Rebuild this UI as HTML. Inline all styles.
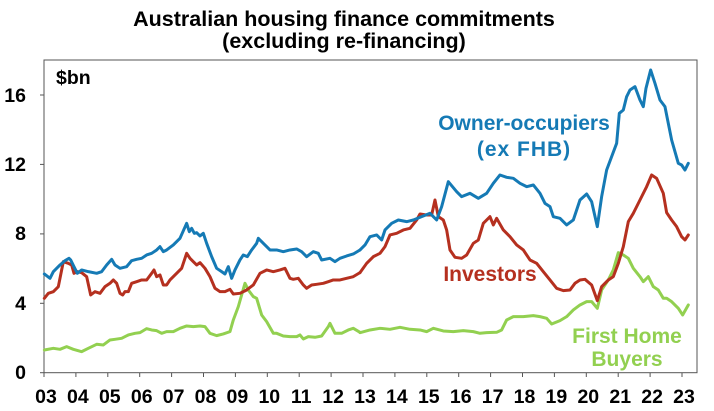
<!DOCTYPE html>
<html><head><meta charset="utf-8"><style>
html,body{margin:0;padding:0;background:#fff;}
svg{display:block;font-family:"Liberation Sans",Arial,sans-serif;font-weight:bold;}
</style></head><body>
<svg width="714" height="411" viewBox="0 0 714 411" xmlns="http://www.w3.org/2000/svg">
<rect width="714" height="411" fill="#fff"/>
<text x="344" y="26" font-size="21.5" text-anchor="middle" fill="#000">Australian housing finance commitments</text>
<text x="344" y="48" font-size="21.5" text-anchor="middle" fill="#000">(excluding re-financing)</text>
<rect x="44" y="60" width="653" height="312.7" fill="none" stroke="#555" stroke-width="1"/>
<g stroke="#555" stroke-width="1">
<line x1="40" y1="95" x2="44" y2="95"/><line x1="40" y1="164.4" x2="44" y2="164.4"/><line x1="40" y1="233.9" x2="44" y2="233.9"/><line x1="40" y1="303.3" x2="44" y2="303.3"/><line x1="40" y1="372.7" x2="44" y2="372.7"/>
</g>
<g font-size="19.5" text-anchor="end" fill="#000">
<text x="26" y="102">16</text><text x="26" y="171">12</text><text x="26" y="240">8</text><text x="26" y="310">4</text><text x="26" y="379">0</text>
</g>
<g font-size="19.5" text-anchor="middle" fill="#000">
<text x="46" y="403">03</text><text x="77.9" y="403">04</text><text x="109.8" y="403">05</text><text x="141.7" y="403">06</text><text x="173.6" y="403">07</text><text x="205.5" y="403">08</text><text x="237.4" y="403">09</text><text x="269.3" y="403">10</text><text x="301.2" y="403">11</text><text x="333.1" y="403">12</text><text x="365" y="403">13</text><text x="396.9" y="403">14</text><text x="428.8" y="403">15</text><text x="460.7" y="403">16</text><text x="492.6" y="403">17</text><text x="524.5" y="403">18</text><text x="556.4" y="403">19</text><text x="588.3" y="403">20</text><text x="620.2" y="403">21</text><text x="652.1" y="403">22</text><text x="684" y="403">23</text>
</g>
<g stroke="#555" stroke-width="1">
<line x1="44" y1="372.7" x2="44" y2="377"/><line x1="75.9" y1="372.7" x2="75.9" y2="377"/><line x1="107.8" y1="372.7" x2="107.8" y2="377"/><line x1="139.7" y1="372.7" x2="139.7" y2="377"/><line x1="171.6" y1="372.7" x2="171.6" y2="377"/><line x1="203.5" y1="372.7" x2="203.5" y2="377"/><line x1="235.4" y1="372.7" x2="235.4" y2="377"/><line x1="267.3" y1="372.7" x2="267.3" y2="377"/><line x1="299.2" y1="372.7" x2="299.2" y2="377"/><line x1="331.1" y1="372.7" x2="331.1" y2="377"/><line x1="363" y1="372.7" x2="363" y2="377"/><line x1="394.9" y1="372.7" x2="394.9" y2="377"/><line x1="426.8" y1="372.7" x2="426.8" y2="377"/><line x1="458.7" y1="372.7" x2="458.7" y2="377"/><line x1="490.6" y1="372.7" x2="490.6" y2="377"/><line x1="522.5" y1="372.7" x2="522.5" y2="377"/><line x1="554.4" y1="372.7" x2="554.4" y2="377"/><line x1="586.3" y1="372.7" x2="586.3" y2="377"/><line x1="618.2" y1="372.7" x2="618.2" y2="377"/><line x1="650.1" y1="372.7" x2="650.1" y2="377"/><line x1="682" y1="372.7" x2="682" y2="377"/>
</g>
<text x="56" y="84" font-size="19.5" fill="#000">$bn</text>
<g fill="none" stroke-width="3" stroke-linejoin="round" stroke-linecap="round">
<g transform="translate(0,50) scale(0.3333)">
<polyline vector-effect="non-scaling-stroke" stroke="#92d050" points="133,900 160,895 180,898 200,890 220,898 245,905 265,895 290,883 310,885 330,870 345,868 365,865 385,855 405,850 420,848 440,836 455,840 470,842 485,850 500,845 520,845 540,835 560,828 580,830 600,828 615,830 630,850 650,857 670,852 690,845 700,810 715,770 735,700 745,720 760,740 770,745 785,795 800,815 820,850 830,850 850,858 870,860 890,860 900,855 910,867 925,860 945,862 965,858 985,830 990,820 1005,850 1025,850 1045,840 1060,835 1080,847"/>
<polyline vector-effect="non-scaling-stroke" stroke="#b5301f" points="133,745 145,730 160,725 175,710 185,660 190,635 205,640 215,645 222,670 232,665 245,668 260,680 272,735 285,725 300,730 315,710 330,700 340,690 350,700 360,730 368,735 375,725 385,725 395,700 410,695 425,690 440,690 455,670 462,660 470,680 480,675 490,705 500,705 510,690 530,670 545,655 560,610 570,625 580,635 590,645 600,638 615,655 630,680 645,715 660,725 675,725 690,718 700,732 720,730 740,720 760,705 780,670 800,660 820,665 840,660 855,655 870,685 880,688 895,685 910,705 920,715 935,705 950,703 970,700 985,695 1000,690 1020,690 1040,685 1060,680 1080,668"/>
<polyline vector-effect="non-scaling-stroke" stroke="#157ab5" points="133,672 150,685 160,665 180,645 195,632 207,625 212,630 222,650 232,670 245,660 265,665 290,670 305,665 320,645 335,628 345,645 360,655 380,650 395,632 410,628 425,625 440,615 455,610 470,600 480,590 490,605 500,600 520,585 540,565 560,520 568,545 575,535 583,550 590,548 600,558 610,550 620,580 635,620 650,655 665,665 675,672 685,650 695,685 705,660 720,630 730,615 742,620 755,600 770,580 775,565 790,580 810,600 830,600 850,605 870,600 890,597 905,605 920,620 940,605 955,610 965,630 990,625 1005,635 1020,625 1040,618 1060,612 1080,600"/>
</g>
<g transform="translate(360,50) scale(0.3333)">
<polyline vector-effect="non-scaling-stroke" stroke="#92d050" points="0,848 30,840 60,835 90,838 120,832 150,838 180,840 200,845 220,835 250,843 280,845 310,842 340,845 360,850 380,848 410,847 425,840 440,810 460,800 490,800 520,797 540,800 560,805 575,822 600,812 620,800 640,780 660,765 680,755 695,755 712,775 725,720 745,690 760,660 775,608 790,615 805,625 820,655 840,680 850,695 865,680 880,710 895,720 910,745 920,745 935,755 955,775 968,795 985,765"/>
<polyline vector-effect="non-scaling-stroke" stroke="#b5301f" points="0,668 20,640 40,620 60,610 75,590 90,555 110,550 130,540 150,535 170,510 180,492 200,495 215,495 225,450 235,500 250,510 260,540 270,600 285,622 305,625 320,615 340,580 355,570 370,520 390,500 400,525 410,505 430,540 450,560 470,585 490,600 510,630 530,640 550,665 570,690 590,715 610,722 630,720 645,700 660,690 675,688 695,705 712,752 725,710 745,690 760,680 775,640 790,590 805,515 820,490 840,450 860,410 875,375 890,385 910,430 920,488 935,510 950,530 965,560 975,570 985,555"/>
<polyline vector-effect="non-scaling-stroke" stroke="#157ab5" points="0,600 15,585 30,560 50,555 65,570 75,540 95,520 115,510 140,515 160,510 185,500 210,490 230,510 245,470 265,395 290,425 305,440 330,430 355,445 380,430 400,400 420,375 440,382 460,385 480,400 500,410 520,405 540,430 555,460 570,470 580,500 600,505 620,525 640,510 660,450 680,432 695,455 712,530 725,440 740,360 755,320 770,280 778,190 790,180 800,140 810,120 825,110 840,150 850,170 858,115 872,60 885,100 900,150 915,170 935,270 955,340 965,345 975,360 985,340"/>
</g>
</g>
<g font-size="21" text-anchor="middle">
<text x="524" y="130" fill="#157ab5">Owner-occupiers</text>
<text x="524" y="156" fill="#157ab5" letter-spacing="1">(ex FHB)</text>
<text x="490" y="281" fill="#b5301f">Investors</text>
<text x="627" y="343" fill="#92d050">First Home</text>
<text x="627" y="366" fill="#92d050">Buyers</text>
</g>
</svg>
</body></html>
